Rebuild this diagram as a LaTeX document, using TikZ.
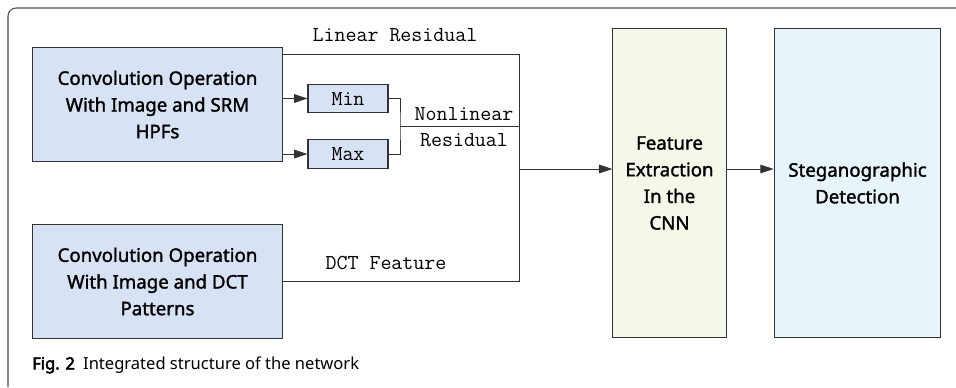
\documentclass[tikz,border=0pt]{standalone}
\usepackage{fontspec}
\usepackage{xcolor}
\usepackage{tikz}
\setsansfont{Noto Sans}
\newfontfamily\boxfont{Noto Sans}[FakeBold=1.6]
\newfontfamily\figfont{Noto Sans}[FakeBold=3]
\definecolor{srmblue}{HTML}{D7E3F4}
\definecolor{featgreen}{HTML}{F4F8E9}
\definecolor{detcyan}{HTML}{E7F4FA}
\definecolor{edgegray}{HTML}{333333}
\usetikzlibrary{positioning,calc,arrows.meta}

\begin{document}
\begin{tikzpicture}[x=0.75pt,y=-0.75pt,
    opbox/.style={draw=edgegray,line width=0.8pt,fill=srmblue,align=center,
      font=\boxfont\fontsize{14}{20}\selectfont,inner sep=0pt},
    minmax/.style={draw=edgegray,line width=0.8pt,fill=srmblue,inner sep=0pt,
      minimum width=60pt,minimum height=21.5pt,font=\ttfamily\fontsize{16}{18}\selectfont},
    reslabel/.style={font=\ttfamily\fontsize{16}{20}\selectfont,align=center,inner sep=0pt},
    wire/.style={draw=edgegray,line width=0.7pt},
    flow/.style={wire,-{Triangle[length=10pt,width=6.5pt]}}]
        \useasboundingbox (0,0) rectangle (956,387);

        % Frame
        \draw[gray!60!black,line width=0.8pt,rounded corners=6] (8,387) -- (8,8) -- (956,8);

        % Filter boxes
        \node[opbox,minimum width=188pt,minimum height=86pt] (srm) at (157.5,104.5)
            {Convolution Operation\\With Image and SRM\\HPFs};
        \node[opbox,minimum width=188pt,minimum height=85pt] (dct) at (157.5,281.5)
            {Convolution Operation\\With Image and DCT\\Patterns};

        % Min and Max
        \node[minmax] (minb) at (348,98.5) {Min};
        \node[minmax] (maxb) at (348,154) {Max};

        % CNN and detection
        \node[opbox,fill=featgreen,minimum width=85pt,minimum height=232pt] (feat) at (669.5,183)
            {Feature\\Extraction\\In the\\CNN};
        \node[opbox,fill=detcyan,minimum width=125pt,minimum height=232pt] (det) at (857.5,183)
            {Steganographic\\Detection};

        % Residual lines
        \coordinate (lr) at (519,54);
        \coordinate (nl) at (400,126);
        \coordinate (jn) at (519,169);
        \draw[wire] (srm.east |- lr) -- (lr) -- (dct.east -| lr) -- (dct.east);
        \draw[flow] (srm.east |- minb) -- (minb.west);
        \draw[flow] (srm.east |- maxb) -- (maxb.west);
        \draw[wire] (minb.east) -| (nl) |- (maxb.east);
        \draw[wire] (nl) -- (nl -| lr);
        \draw[flow] (jn) -- (jn -| feat.west);
        \draw[flow] (feat.east |- jn) -- (det.west |- jn);

        % Labels
        \node[reslabel] (lrlabel) at (395,35) {Linear Residual};
        \node[reslabel] (nllabel) at (464,127) {Nonlinear\\Residual};
        \node[reslabel] (dctlabel) at (386,263) {DCT Feature};

        % Caption
        \node[anchor=west,inner sep=0pt,font=\sffamily\fontsize{12.4}{14}\selectfont] (caption) at (32,365)
            {{\figfont Fig. 2}\hspace{0.5em}Integrated structure of the network};
    \end{tikzpicture}
\end{document}
